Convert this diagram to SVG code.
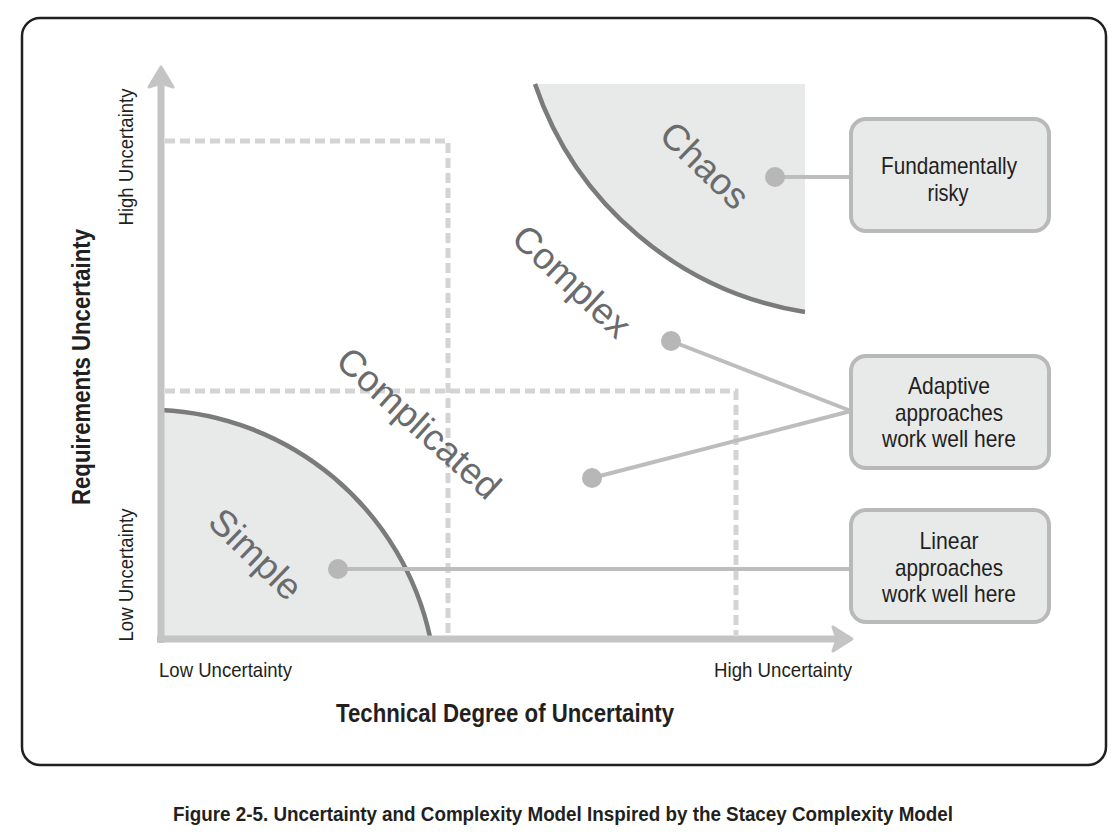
<svg xmlns="http://www.w3.org/2000/svg" width="1118" height="840" viewBox="0 0 1118 840">
<style>
.frame{fill:#fff;stroke:#231f20;stroke-width:2.5}
.axis{stroke:#c4c4c4;stroke-width:7;fill:none}
.head{fill:#c4c4c4;stroke:#c4c4c4;stroke-width:3;stroke-linejoin:round}
.dash{stroke:#d4d4d4;stroke-width:5;stroke-dasharray:10 5;fill:none}
.region{fill:#e8e9e9;stroke:none}
.arc{fill:none;stroke:#7b7b7b;stroke-width:4.5}
.lbl{font-family:"Liberation Sans",Arial,sans-serif;font-size:37px;fill:#6a6b6d;text-anchor:middle}
.conn{stroke:#bdbdbd;stroke-width:4;fill:none}
.dot{fill:#b7b7b7}
.box{fill:#e8e9e9;stroke:#b9b9b9;stroke-width:4}
.bt{font-family:"Liberation Sans",Arial,sans-serif;font-size:24px;fill:#231f20;text-anchor:middle}
.ax{font-family:"Liberation Sans",Arial,sans-serif;font-size:21px;fill:#231f20}
.axb{font-family:"Liberation Sans",Arial,sans-serif;font-size:25px;font-weight:bold;fill:#231f20;text-anchor:middle}
.cap{font-family:"Liberation Sans",Arial,sans-serif;font-size:21px;font-weight:bold;fill:#231f20;text-anchor:middle}
</style>
<rect class="frame" x="22" y="18" width="1084" height="747" rx="18"/>

<g id="regions">
  <path class="region" d="M535,84 A342,342 0 0 0 805,312 L805,84 Z"/>
  <path class="arc" d="M535,84 A342,342 0 0 0 805,312"/>
  <path class="region" d="M161,410 A289,289 0 0 1 430,637 L161,637 Z"/>
  <path class="arc" d="M161,410 A289,289 0 0 1 430,637"/>
</g>

<g id="grid">
  <polyline class="dash" points="165,141 448,141 448,635"/>
  <polyline class="dash" points="165,391 736,391 736,635"/>
</g>

<g id="axes">
  <line class="axis" x1="161" y1="84" x2="161" y2="643"/>
  <line class="axis" x1="157" y1="639" x2="836" y2="639"/>
  <path class="head" d="M161,67 L173,87 L161,83 L149,87 Z"/>
  <path class="head" d="M852,639 L833,651 L837,639 L833,627 Z"/>
</g>

<g id="region-labels">
  <g transform="translate(705,165) rotate(44)"><text class="lbl" x="0" y="13">Chaos</text></g>
  <g transform="translate(572,281) rotate(43)"><text class="lbl" x="0" y="13">Complex</text></g>
  <g transform="translate(419,423) rotate(42)"><text class="lbl" x="0" y="13">Complicated</text></g>
  <g transform="translate(256,554) rotate(44)"><text class="lbl" x="0" y="13">Simple</text></g>
</g>

<g id="connectors">
  <line class="conn" x1="775" y1="177" x2="851" y2="177"/>
  <line class="conn" x1="671" y1="341" x2="851" y2="411"/>
  <line class="conn" x1="592" y1="478" x2="851" y2="411"/>
  <line class="conn" x1="338" y1="569" x2="851" y2="569"/>
  <circle class="dot" cx="775" cy="177" r="10"/>
  <circle class="dot" cx="671" cy="341" r="10"/>
  <circle class="dot" cx="592" cy="478" r="10"/>
  <circle class="dot" cx="338" cy="569" r="10"/>
</g>

<g id="box-risky">
  <rect class="box" x="851" y="119" width="198" height="112" rx="15"/>
  <text class="bt" x="949" y="174" textLength="136" lengthAdjust="spacingAndGlyphs">Fundamentally</text>
  <text class="bt" x="948" y="201" textLength="41" lengthAdjust="spacingAndGlyphs">risky</text>
</g>
<g id="box-adaptive">
  <rect class="box" x="851" y="356" width="198" height="112" rx="15"/>
  <text class="bt" x="949" y="394" textLength="82" lengthAdjust="spacingAndGlyphs">Adaptive</text>
  <text class="bt" x="949" y="421" textLength="108" lengthAdjust="spacingAndGlyphs">approaches</text>
  <text class="bt" x="949" y="447" textLength="134" lengthAdjust="spacingAndGlyphs">work well here</text>
</g>
<g id="box-linear">
  <rect class="box" x="851" y="510" width="198" height="112" rx="15"/>
  <text class="bt" x="949" y="549" textLength="59" lengthAdjust="spacingAndGlyphs">Linear</text>
  <text class="bt" x="949" y="576" textLength="108" lengthAdjust="spacingAndGlyphs">approaches</text>
  <text class="bt" x="949" y="602" textLength="134" lengthAdjust="spacingAndGlyphs">work well here</text>
</g>

<g id="axis-labels">
  <text class="ax" x="159" y="677" textLength="133" lengthAdjust="spacingAndGlyphs">Low Uncertainty</text>
  <text class="ax" x="714" y="677" textLength="138" lengthAdjust="spacingAndGlyphs">High Uncertainty</text>
  <text class="axb" x="505" y="722" textLength="338" lengthAdjust="spacingAndGlyphs">Technical Degree of Uncertainty</text>
  <g transform="translate(133,157) rotate(-90)"><text class="ax" x="0" y="0" text-anchor="middle" textLength="137" lengthAdjust="spacingAndGlyphs">High Uncertainty</text></g>
  <g transform="translate(133,575) rotate(-90)"><text class="ax" x="0" y="0" text-anchor="middle" textLength="133" lengthAdjust="spacingAndGlyphs">Low Uncertainty</text></g>
  <g transform="translate(90,367) rotate(-90)"><text class="axb" x="0" y="0" textLength="276" lengthAdjust="spacingAndGlyphs">Requirements Uncertainty</text></g>
</g>

<text class="cap" x="563" y="821" textLength="780" lengthAdjust="spacingAndGlyphs">Figure 2-5. Uncertainty and Complexity Model Inspired by the Stacey Complexity Model</text>
</svg>
